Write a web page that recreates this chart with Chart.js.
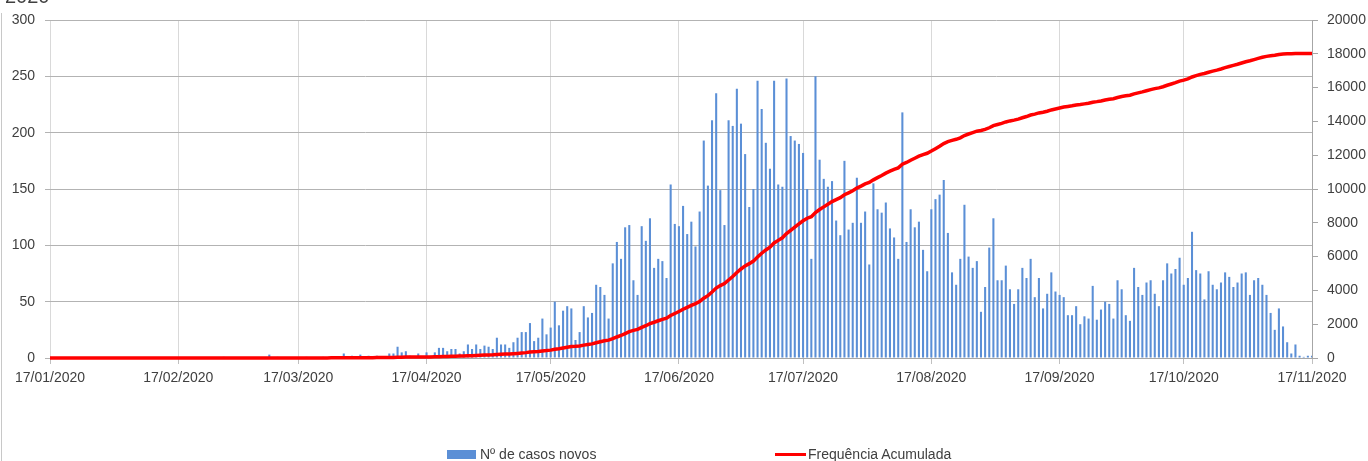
<!DOCTYPE html>
<html>
<head>
<meta charset="utf-8">
<script src="https://cdn.jsdelivr.net/npm/chart.js@4.4.0/dist/chart.umd.min.js"></script>
<style>
  body { margin: 0; background: #fff; }
  #wrap { position: relative; width: 1368px; height: 461px; overflow: hidden; font-family: "Liberation Sans", Arial, sans-serif; color: #404040; }
  #myChart { position: absolute; left: 0; top: 0; }
  .frame { position: absolute; left: 1px; top: 13px; width: 1px; height: 460px; background: #c8c8c8; }
  .cut-title { position: absolute; left: 5px; top: -14px; font-size: 20px; line-height: 20px; color: #404040; }
  .leg-box { position: absolute; left: 447px; top: 450px; width: 29px; height: 9px; background: #5b8fd6; }
  .leg-line { position: absolute; left: 775px; top: 453px; width: 31px; height: 3px; background: #ff0000; }
  .leg-text { position: absolute; top: 446px; font-size: 14px; line-height: 16px; white-space: nowrap; }
</style>
</head>
<body>
<div id="wrap">
  <canvas id="myChart" width="1368" height="461"></canvas>
  <div class="frame"></div>
  <div class="cut-title">2020</div>
  <div class="leg-box"></div>
  <div class="leg-text" style="left:480px">Nº de casos novos</div>
  <div class="leg-line"></div>
  <div class="leg-text" style="left:808px">Frequência Acumulada</div>
</div>
<script>
// daily new cases, one value per day from 17/01/2020 to 17/11/2020
const newCases = [
  0,0,0,0,0,0,0,0,0,0,
  0,0,0,0,0,0,0,0,0,0,
  0,0,0,0,0,0,0,0,0,0,
  0,0,0,0,0,0,0,0,0,0,
  0,0,1,0,0,0,0,0,0,0,
  0,0,0,3,0,1,0,0,0,0,
  0,0,1,0,0,0,1,0,1,1,
  0,4,0,2,0,3,0,2,1,2,
  0,0,4,4,10,5,6,2,0,4,
  0,5,2,5,9,9,6,8,8,4,
  6,12,8,12,8,11,10,8,18,12,
  12,9,14,18,23,23,31,15,18,35,
  21,27,50,29,42,46,44,16,23,46,
  36,40,65,63,56,35,84,103,88,116,
  118,69,56,117,104,124,80,88,86,71,
  154,119,117,135,110,121,99,130,193,153,
  211,235,149,118,211,206,239,208,181,134,
  150,246,221,191,168,246,154,152,248,197,
  193,190,182,150,88,250,176,159,152,157,
  122,109,175,114,120,160,120,130,83,155,
  132,129,138,115,107,88,218,103,132,116,
  121,96,77,132,141,145,158,111,76,65,
  88,136,90,80,86,41,63,98,124,69,
  69,82,61,48,61,80,71,88,54,71,
  44,57,76,59,56,54,38,38,46,30,
  37,35,64,34,43,50,48,35,69,61,
  38,33,80,63,56,67,69,57,46,69,
  84,75,79,89,65,71,112,78,75,52,
  77,65,61,67,76,72,63,67,75,76,
  56,69,71,65,56,40,25,44,28,14,
  4,12,2,1,2,2
];

// dates for each bar
const dayLabels = newCases.map((_, i) => {
  const d = new Date(2020, 0, 17 + i);
  const dd = String(d.getDate()).padStart(2, "0");
  const mm = String(d.getMonth() + 1).padStart(2, "0");
  return dd + "/" + mm + "/" + d.getFullYear();
});

// Frequência Acumulada = running total of the daily cases
let total = 0;
const cumulative = newCases.map(v => (total += v));

Chart.defaults.font.family = '"Liberation Sans", Arial, sans-serif';
Chart.defaults.font.size = 14;
Chart.defaults.color = "#404040";

const data = {
  labels: dayLabels,
  datasets: [
    {
      type: "line",
      label: "Frequência Acumulada",
      data: cumulative,
      yAxisID: "y1",
      borderColor: "#ff0000",
      borderWidth: 3.5,
      pointRadius: 0,
      tension: 0,
      clip: false,
      order: 1,
    },
    {
      type: "bar",
      label: "Nº de casos novos",
      data: newCases,
      yAxisID: "y",
      backgroundColor: "#5b8fd6",
      barPercentage: 0.5,
      categoryPercentage: 1,
      order: 2,
    },
  ],
};

const config = {
  data,
  options: {
    responsive: false,
    animation: false,
    devicePixelRatio: 1,
    layout: { padding: { top: 20, left: 0, right: 0, bottom: 0 } },
    plugins: { legend: { display: false }, tooltip: { enabled: false } },
    scales: {
      x: {
        type: "category",
        offset: false,
        grid: { offset: false, color: "#d9d9d9", tickColor: "#c0c0c0", tickLength: 6 },
        border: { color: "#a6a6a6" },
        ticks: { autoSkip: false, maxRotation: 0, padding: 6 },
        // only the 17th of each month gets a tick
        afterBuildTicks: s => { s.ticks = s.ticks.filter(t => dayLabels[t.value].startsWith("17/")); },
        afterFit: s => { s.height = 103; },
      },
      y: {
        position: "left",
        min: 0,
        max: 300,
        ticks: { stepSize: 50, padding: 10 },
        grid: { color: "#b3b3b3", tickColor: "#b3b3b3", tickLength: 5 },
        border: { display: false },
        afterFit: s => { s.width = 50; },
      },
      y1: {
        position: "right",
        min: 0,
        max: 20000,
        ticks: { stepSize: 2000, padding: 9, callback: v => String(v) },
        grid: { drawOnChartArea: false, color: "#a6a6a6", tickLength: 6 },
        border: { color: "#a6a6a6" },
        afterFit: s => { s.width = 56; },
      },
    },
  },
};

const myChart = new Chart(document.getElementById("myChart"), config);
</script>
</body>
</html>
